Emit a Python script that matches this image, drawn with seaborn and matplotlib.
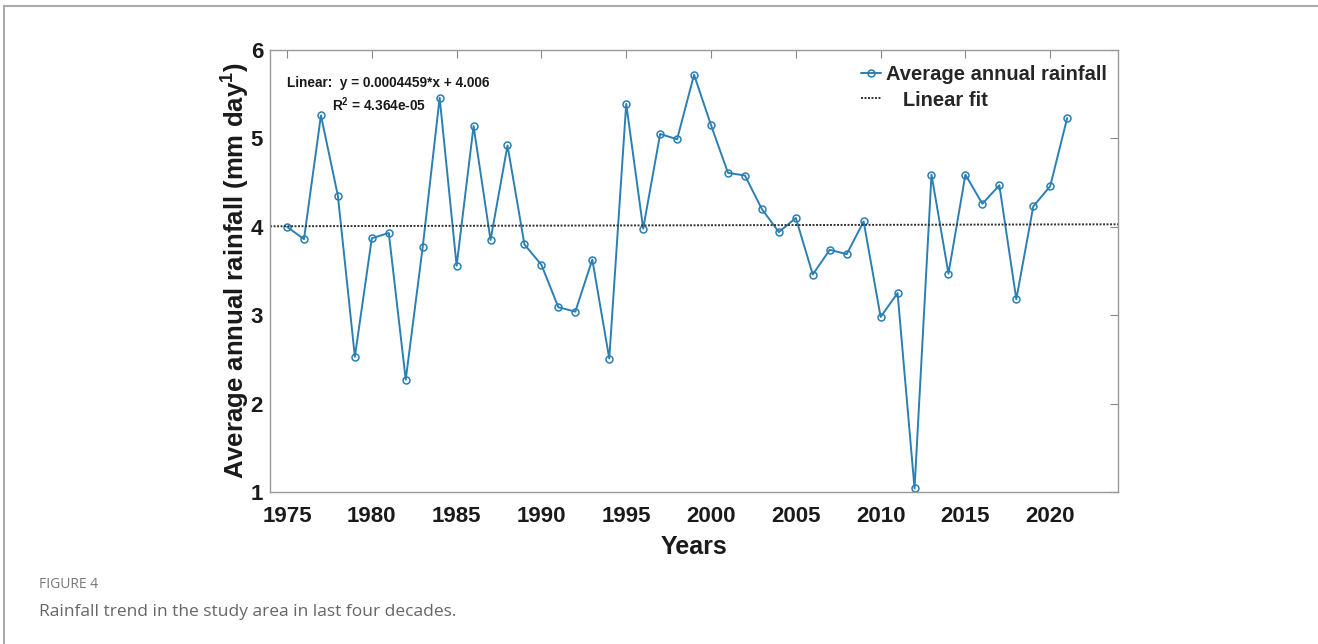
import numpy as np
import pandas as pd
import matplotlib
matplotlib.use("Agg")
import matplotlib.pyplot as plt
import seaborn as sns

years = list(range(1975, 2022))
rainfall = [4.00, 3.86, 5.26, 4.35, 2.53, 3.87, 3.93, 2.27, 3.77, 5.46,
            3.56, 5.14, 3.85, 4.92, 3.80, 3.57, 3.09, 3.04, 3.63, 2.51,
            5.39, 3.98, 5.05, 4.99, 5.72, 5.15, 4.61, 4.58, 4.20, 3.94,
            4.10, 3.46, 3.74, 3.69, 4.06, 2.98, 3.25, 1.04, 4.59, 3.47,
            4.59, 4.26, 4.47, 3.18, 4.23, 4.46, 5.23]
fit_slope = 0.0004459
fit_intercept = 4.006
fit_r2 = "4.364e-05"
fit_origin = 1974
x_ticks = [1975, 1980, 1985, 1990, 1995, 2000, 2005, 2010, 2015, 2020]
y_ticks = [1, 2, 3, 4, 5, 6]

sns.set_style("white")
plt.rcParams["font.family"] = ["Liberation Sans", "DejaVu Sans"]
plt.rcParams["mathtext.default"] = "regular"

df = pd.DataFrame({"Year": years, "Rainfall": rainfall})
fit_x = np.array([1974, 2024])
fit_df = pd.DataFrame({"Year": fit_x, "Fit": fit_intercept + fit_slope * (fit_x - fit_origin)})

fig = plt.figure(figsize=(13.18, 6.44), dpi=100)
ax = fig.add_axes([0.2049, 0.236, 0.6434, 0.6864])

blue = "#2b7fb3"
sns.lineplot(data=df, x="Year", y="Rainfall", ax=ax, color=blue, linewidth=1.4,
             marker="o", markersize=5, markerfacecolor="none",
             markeredgecolor=blue, markeredgewidth=1.1,
             label="Average annual rainfall")
sns.lineplot(data=fit_df, x="Year", y="Fit", ax=ax, color="#333333",
             linewidth=1.4, linestyle=(0, (1, 0.8)), label="   Linear fit")

ax.set_xlim(1974, 2024)
ax.set_ylim(1, 6)
ax.set_xticks(x_ticks)
ax.set_yticks(y_ticks)
ax.tick_params(direction="in", length=6, width=0.8, color="#888888",
               top=True, right=True, labelsize=16)
ax.tick_params(axis="x", pad=10)
ax.tick_params(axis="y", pad=5)
for lab in ax.get_xticklabels() + ax.get_yticklabels():
    lab.set_fontweight("bold")
    lab.set_color("#1a1a1a")
ax.tick_params(axis="x", labeltop=False)
ax.tick_params(axis="y", labelright=False)
for s in ax.spines.values():
    s.set_color("#999999")
    s.set_linewidth(1.0)

ax.set_xlabel("Years", fontsize=18, fontweight="bold", color="#1a1a1a", labelpad=6)
ax.set_ylabel("Average annual rainfall (mm day$^{1}$)", fontsize=18.5,
              fontweight="bold", color="#1a1a1a", labelpad=-1)

ax.text(0.02, 0.925, "Linear:  y = 0.0004459*x + 4.006", transform=ax.transAxes,
        fontsize=9.8, fontweight="bold", va="center", ha="left", color="#1a1a1a")
ax.text(0.073, 0.876, "R$^2$ = " + fit_r2, transform=ax.transAxes,
        fontsize=9.8, fontweight="bold", va="center", ha="left", color="#1a1a1a")

leg = ax.legend(loc="upper right", bbox_to_anchor=(1.0, 0.99), frameon=False,
                prop={"weight": "bold", "size": 14.5},
                handlelength=1.0, handletextpad=0.25, labelspacing=0.3,
                borderaxespad=0.15)

# page frame lines and caption
fig.add_artist(plt.Line2D([4/1318, 1], [1 - 6/644, 1 - 6/644], color="#aaaaaa", lw=1.5,
                          transform=fig.transFigure))
fig.add_artist(plt.Line2D([4/1318, 4/1318], [0, 1 - 6/644], color="#aaaaaa", lw=1.5,
                          transform=fig.transFigure))
fig.text(39/1318, 1 - 584/644, "FIGURE 4", fontsize=10, color="#777777",
         family=["Open Sans", "DejaVu Sans"], va="center", ha="left")
fig.text(39/1318, 1 - 612/644, "Rainfall trend in the study area in last four decades.",
         fontsize=12.5, color="#666666", family=["Open Sans", "DejaVu Sans"],
         va="center", ha="left")

fig.savefig("out.png", dpi=100)
